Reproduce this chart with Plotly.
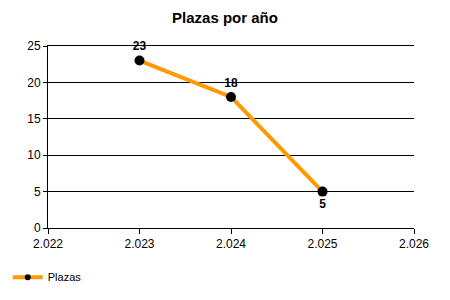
import plotly.graph_objects as go

years = [2023, 2024, 2025]
plazas = [23, 18, 5]
label_pos = ["top center", "top center", "bottom center"]
x_ticks = [2022, 2023, 2024, 2025, 2026]
y_ticks = [0, 5, 10, 15, 20, 25]

FONT = "Liberation Sans, Arial, sans-serif"
ORANGE = "#FF9900"

fig = go.Figure()
fig.add_trace(go.Scatter(
    x=years, y=plazas, name="Plazas",
    mode="lines+markers+text",
    line=dict(color=ORANGE, width=4),
    marker=dict(color="black", size=10),
    text=[str(v) for v in plazas],
    textposition=label_pos,
    textfont=dict(family=FONT, size=12, color="black", weight="bold"),
    cliponaxis=False,
    showlegend=False,
))
# legend-only entry with a smaller marker, as in the reference legend
fig.add_trace(go.Scatter(
    x=[None], y=[None], name="Plazas",
    mode="lines+markers",
    line=dict(color=ORANGE, width=4),
    marker=dict(color="black", size=6),
    showlegend=True,
))

fig.update_layout(
    width=450, height=300,
    margin=dict(l=48, r=36, t=46, b=72, autoexpand=False),
    paper_bgcolor="white", plot_bgcolor="white",
    separators=",.",
    font=dict(family=FONT, size=12, color="black"),
    title=dict(text="<b>Plazas por año</b>", x=0.5, xanchor="center",
               y=1 - 18 / 300, yref="container", yanchor="middle",
               font=dict(size=15, color="black")),
    showlegend=True,
    legend=dict(orientation="h", x=-0.11, xanchor="left", y=-0.27, yanchor="middle",
                font=dict(size=11, color="black"), itemwidth=30,
                bgcolor="rgba(0,0,0,0)"),
    xaxis=dict(range=[2022, 2026], tickvals=x_ticks, tickformat=",d",
               showgrid=False, showline=True, mirror=True, linecolor="black", linewidth=1,
               ticks="outside", ticklen=5, tickcolor="black", zeroline=False,
               tickfont=dict(size=12)),
    yaxis=dict(range=[0, 25], tickvals=y_ticks,
               showgrid=True, gridcolor="black", gridwidth=1,
               showline=True, linecolor="black", linewidth=1,
               ticks="outside", ticklen=4, tickcolor="black", zeroline=False,
               tickfont=dict(size=12)),
)

fig.write_html("out.html")
